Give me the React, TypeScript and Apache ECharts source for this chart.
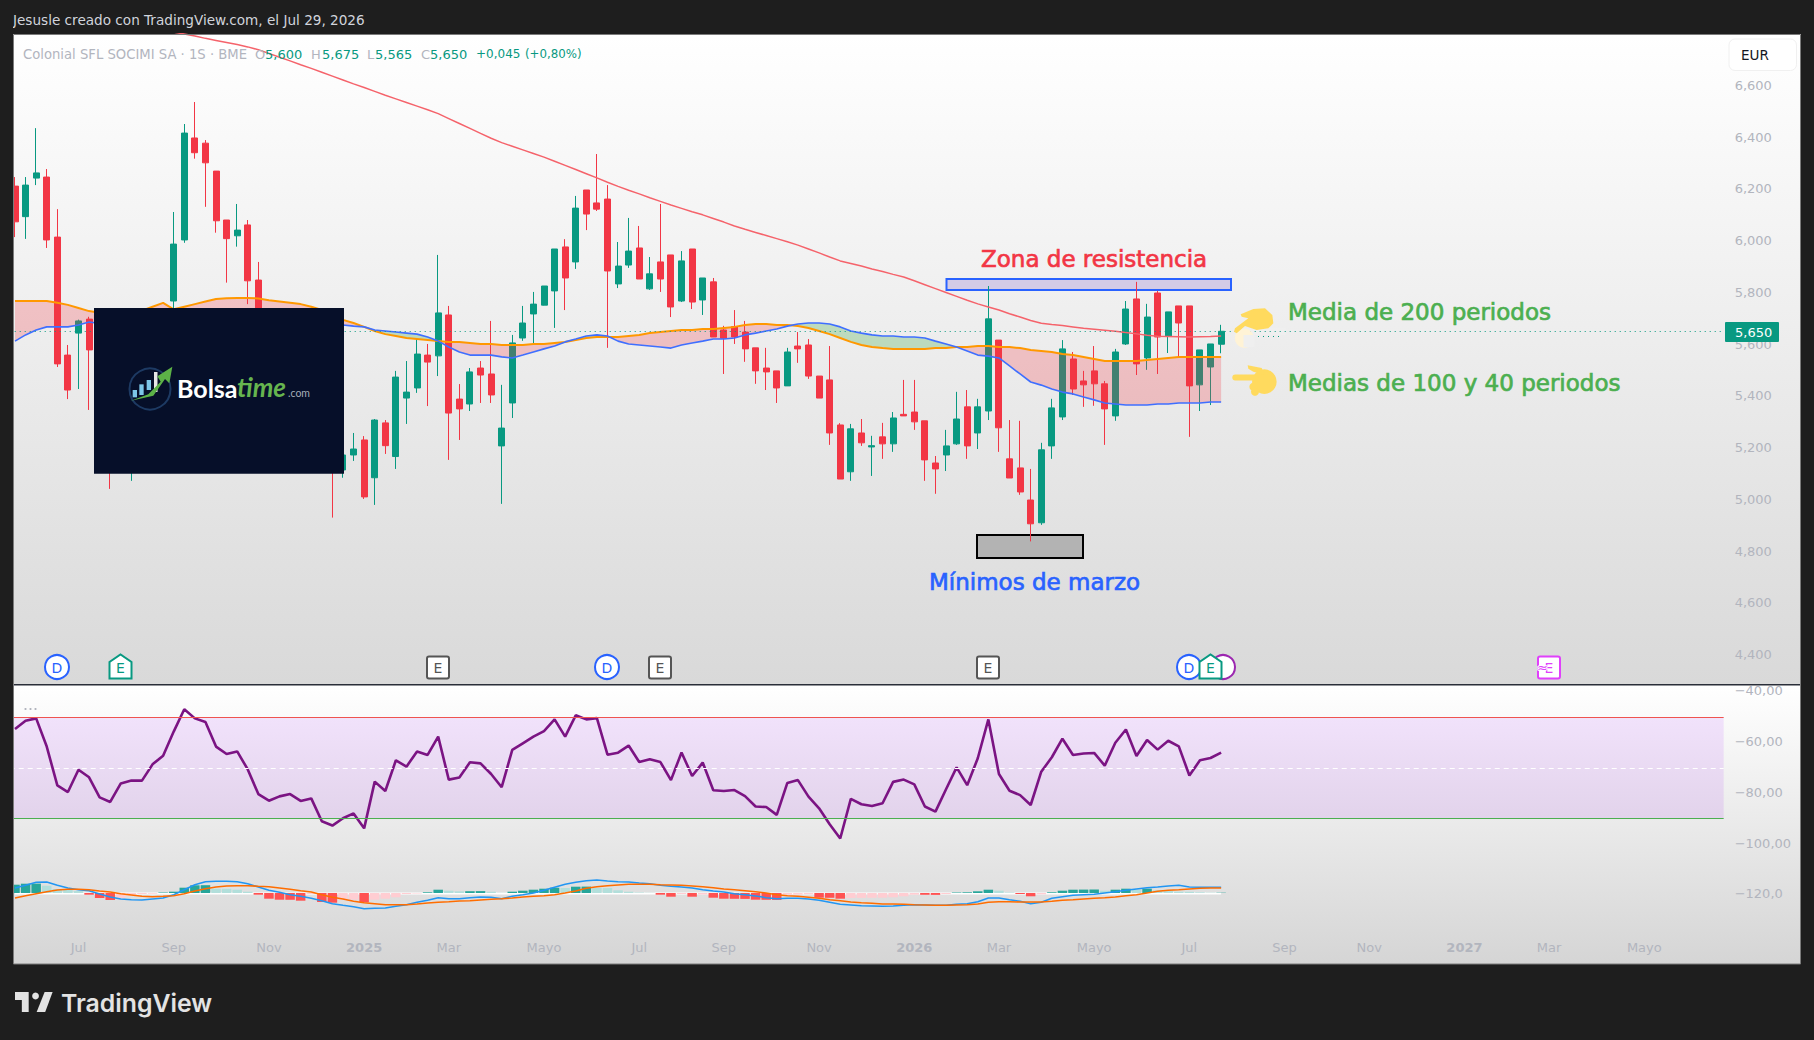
import React, { useEffect, useRef } from "react";
import * as echarts from "echarts";

const FONT = "DejaVu Sans";
const opens = [6211,6093,6242,6246,6014,5558,5643,5697,5590,5430,5200,5200,5380,5450,5530,5767,6003,6397,6377,6269,6080,6019,6061,5848,5680,5600,5470,5380,5440,5330,5220,5114,5172,5230,5084,5296,5166,5392,5431,5558,5555,5713,5388,5369,5508,5485,5207,5373,5624,5717,5751,5806,5976,5918,6196,6146,6161,5833,5906,5972,5814,5918,5945,5767,5968,5771,5841,5655,5668,5647,5586,5508,5497,5439,5593,5597,5477,5462,5288,5107,5257,5203,5242,5215,5329,5338,5304,5141,5172,5215,5358,5257,5342,5616,5157,5122,4998,4910,5207,5319,5543,5458,5497,5447,5323,5601,5775,5547,5798,5632,5748,5748,5443,5512,5600];
const closes = [6073,6215,6262,6003,5524,5423,5690,5578,5430,5200,5310,5380,5450,5530,5600,5987,6416,6340,6301,6077,6008,6041,5845,5680,5600,5470,5380,5440,5330,5220,5110,5172,5195,5010,5307,5208,5473,5415,5562,5531,5721,5334,5350,5493,5481,5404,5276,5605,5682,5755,5825,5968,5856,6126,6103,6122,5883,5902,5960,5852,5872,5852,5744,5922,5763,5856,5628,5623,5628,5582,5497,5493,5431,5570,5582,5477,5392,5257,5079,5273,5219,5208,5215,5315,5323,5300,5153,5118,5207,5311,5207,5358,5698,5277,5083,5029,4906,5192,5354,5582,5427,5443,5447,5350,5570,5736,5524,5705,5628,5725,5682,5439,5578,5601,5650];
const highs = [6246,6246,6435,6277,6122,5597,5695,5706,5620,5480,5360,5450,5500,5580,5690,6111,6451,6536,6389,6269,6080,6142,6080,5918,5720,5630,5500,5470,5470,5360,5260,5230,5257,5245,5311,5307,5497,5535,5620,5601,5945,5748,5446,5508,5535,5690,5443,5636,5748,5802,5825,5968,6006,6173,6196,6335,6215,5995,6088,6057,5937,6142,5945,5960,5968,5856,5856,5671,5732,5690,5586,5586,5497,5586,5647,5620,5477,5593,5295,5292,5311,5246,5296,5338,5462,5462,5304,5168,5269,5416,5423,5389,5825,5616,5307,5304,5118,5219,5389,5616,5570,5497,5593,5458,5582,5767,5841,5756,5806,5725,5748,5748,5578,5601,5675];
const lows = [6014,6007,6215,5972,5512,5388,5427,5346,5400,5041,5150,5072,5340,5420,5500,5730,5992,6317,6131,6031,5838,5977,5755,5640,5560,5430,5340,5330,5290,5180,4930,5084,5149,5002,4979,5176,5118,5292,5412,5361,5477,5153,5230,5342,5373,5373,4983,5315,5613,5604,5750,5663,5732,5891,6041,6115,5586,5817,5895,5852,5810,5802,5705,5763,5736,5713,5628,5485,5601,5532,5447,5423,5373,5439,5528,5466,5392,5211,5079,5072,5207,5091,5157,5184,5323,5269,5072,5022,5110,5211,5157,5195,5307,5184,5083,5018,4838,4902,5157,5307,5404,5358,5362,5211,5304,5597,5481,5501,5485,5566,5551,5242,5342,5365,5565];
const ma200 = [null,null,null,null,null,null,null,null,null,null,null,null,null,null,null,6806,6799,6791,6782,6774,6766,6758,6749,6738,6724,6709,6695,6680,6666,6651,6636,6621,6606,6592,6577,6562,6548,6534,6520,6506,6491,6472,6453,6434,6415,6396,6379,6365,6351,6337,6323,6307,6291,6275,6259,6243,6226,6210,6195,6181,6166,6152,6138,6125,6112,6100,6086,6072,6057,6044,6032,6020,6008,5996,5983,5968,5953,5937,5922,5912,5902,5891,5881,5870,5860,5845,5830,5815,5800,5785,5770,5756,5744,5732,5718,5705,5692,5681,5676,5672,5667,5662,5658,5654,5650,5645,5640,5635,5631,5630,5629,5628,5629,5630,5632];
const ma100 = [5767,5767,5767,5767,5760,5752,5740,5728,5722,5718,5716,5720,5730,5745,5760,5735,5745,5755,5765,5775,5778,5779,5779,5777,5770,5765,5760,5755,5745,5732,5713,5694,5682,5667,5651,5639,5632,5624,5620,5616,5612,5609,5609,5605,5601,5601,5597,5597,5597,5601,5601,5605,5609,5616,5624,5628,5628,5628,5632,5636,5643,5647,5651,5655,5655,5659,5659,5663,5667,5674,5678,5678,5674,5674,5670,5663,5651,5639,5624,5609,5597,5589,5585,5582,5582,5582,5582,5585,5585,5589,5589,5593,5593,5589,5589,5585,5578,5574,5570,5562,5558,5551,5543,5535,5535,5535,5535,5539,5543,5547,5551,5551,5551,5551,5551];
const ma40 = [5612,5636,5655,5667,5667,5667,5674,5686,5680,5670,5650,5640,5640,5650,5660,5665,5670,5680,5690,5695,5700,5700,5695,5690,5685,5680,5670,5665,5660,5655,5655,5674,5670,5667,5655,5651,5647,5643,5639,5628,5612,5589,5570,5558,5558,5558,5551,5547,5558,5570,5582,5593,5609,5620,5632,5636,5632,5612,5601,5597,5593,5589,5585,5597,5605,5612,5620,5620,5624,5636,5643,5651,5659,5670,5678,5682,5682,5678,5667,5651,5643,5636,5632,5632,5628,5628,5624,5612,5601,5589,5574,5558,5554,5547,5516,5485,5454,5442,5427,5415,5408,5396,5385,5373,5369,5365,5365,5365,5369,5369,5373,5373,5373,5377,5377];
const oscillator = [-55.1,-51.8,-50.9,-62,-77.3,-79.9,-71.1,-74.1,-82,-83.8,-76.5,-75.4,-75.4,-69,-65.6,-56.1,-47.3,-50.9,-52.3,-62,-64.9,-63.9,-71,-80.7,-83.3,-81.6,-80.7,-83.4,-82.4,-91.4,-93.1,-90.2,-88.3,-94.2,-75.8,-79.5,-67.4,-69.9,-63.9,-65.3,-58.1,-75,-74.2,-68.2,-68.6,-72.8,-78,-63.3,-60.7,-58.1,-55.9,-51.3,-58.1,-49.7,-51.3,-50.8,-65.2,-64.4,-61.6,-68.1,-67,-68.1,-75.2,-64.3,-73.6,-68.3,-79.2,-79.5,-79.1,-81.5,-85.6,-85.8,-88.9,-76.3,-75.2,-81.7,-86.3,-92.6,-98.2,-82.6,-84.7,-85.4,-84.3,-75.9,-75,-76.9,-85.6,-87.6,-78.8,-70.2,-77.2,-66.6,-51.3,-72.8,-79.4,-81.1,-85,-71.9,-66.2,-58.9,-65.3,-64.7,-64.5,-69.5,-60.5,-55.3,-65.7,-59.4,-63.2,-59.7,-61.9,-73.4,-67.4,-66.5,-64.4];
const macdLine = [5,7.7,10.7,11,7.7,5,3.3,2.3,-1,-4,-6,-6.7,-7,-6,-5,-1.7,3.3,8.3,11.3,11.7,11.7,11.3,9.3,6,2.7,0.7,-1.7,-3.3,-5.3,-7.7,-10.7,-12.3,-13.7,-15.7,-15.3,-15,-13.3,-11.7,-9.3,-7.3,-4.7,-5.7,-5.7,-4.7,-4,-4.3,-5.7,-3.3,-1.7,0,2.7,5.7,8.7,10.7,12.3,13,12,11.3,11,10,9.3,7.7,6.7,6,5,3.3,2,1,-0.7,-1.7,-3,-4.7,-5.7,-5.3,-5.3,-6,-7.3,-9.3,-11.3,-12,-12.7,-13,-13.3,-13,-12.3,-11.7,-12,-12.3,-12.3,-11.3,-10.7,-8.7,-5,-5,-6.7,-8.3,-10.7,-9.3,-5.3,-3.7,-2.3,-1.7,-1.3,0,1.3,2.7,4,5.3,6,7,7.7,6,5.7,5.7,5.7];
const macdSignal = [-5,-2.7,-0.7,1.3,3,3.7,3.7,3.3,2,1,-0.7,-2,-3.3,-3.7,-3.3,-2.7,-0.7,2,4.3,6,7,7.3,7.3,6.7,6.3,5,3.7,2.3,1,-1.7,-4.3,-6,-8.3,-9.7,-10.7,-11.7,-11.7,-11.7,-11,-10,-9.3,-8.7,-8,-7.7,-7,-6.3,-5.7,-5,-4,-3.3,-2.7,-1.7,0,2,4.7,6.3,7.3,8,8.7,8.7,8.7,8.3,8,7.7,7,6.3,5.3,4,3.3,2.3,1.3,0,-1.7,-2.7,-3.3,-4.3,-5.3,-6.7,-7.7,-9,-9.7,-10.3,-11,-11,-11.3,-11.7,-12,-12.3,-12.3,-12,-11.7,-11,-9.3,-8.7,-8.7,-9,-9,-9,-8.3,-7.3,-6.7,-6,-5.3,-4.7,-4,-2.7,-1.7,0,1.7,2.7,3.3,4,4.7,5,5];
const macdHist = [8.3,9.3,9.4,7.3,4,3,2,-1.7,-5,-7,-5,-3,-1,-0.7,0.5,1.3,5.3,7.7,7.8,4.3,4.2,3.3,1.3,-1.7,-5.7,-6.7,-6.8,-7.7,-1,-9,-9.7,-6.7,-6.6,-9.3,-6.7,-5.7,-4.3,-1,-0.5,0.7,3.3,2.3,1.7,1.8,1.9,1.3,0.2,1.3,2.3,3.3,4.3,5.3,5,6.3,6.4,5,4.9,2.7,1.3,0.5,0.2,-1.7,-3.7,-1,-3.7,-1.5,-4.7,-5.7,-5.8,-5.9,-6.7,-6.8,-6.9,-1.7,-1.6,-1.3,-4.7,-4.8,-5.7,-5,-4.9,-4.8,-4.7,-4.3,-3.3,-1.7,-1.8,-1.9,-1,0.5,0.7,1.7,3.3,2.3,0.5,-1,-3.3,-1.3,0.7,2.3,3.3,3.4,3.5,2.3,3.3,4.3,3.3,4.3,2.7,2,1.3,1.2,0.7,0.3,0.3];
const priceTicks = { min: 4200, max: 6800, step: 200 };
const oscTicks = { min: -140, max: -20, step: 20 };
const tickIndex = [6,15,24,33,41,50,59,67,76,85,93,102,111,120,128,137,145,154];
const tickText = ["Jul","Sep","Nov","2025","Mar","Mayo","Jul","Sep","Nov","2026","Mar","Mayo","Jul","Sep","Nov","2027","Mar","Mayo"];
const slotCount = 162;
const categories = Array.from({ length: slotCount }, (_, i) => "w" + i);
const lastPrice = 5650;
const bandUpper = -50.6;
const bandMiddle = -70.4;
const bandLower = -90.2;
const legendParts: [string, number, string, number][] = [
  ["Colonial SFL SOCIMI SA · 1S · BME", 23, "#b2b5be", 13.2],
  ["O", 255, "#b2b5be", 13], ["5,600", 265, "#089981", 13],
  ["H", 311, "#b2b5be", 13], ["5,675", 322, "#089981", 13],
  ["L", 367, "#b2b5be", 13], ["5,565", 375, "#089981", 13],
  ["C", 421, "#b2b5be", 13], ["5,650", 430, "#089981", 13],
  ["+0,045", 476, "#089981", 12], ["(+0,80%)", 525, "#089981", 11.8],
];

const GRID_LEFT = 9.71;
const GRID_WIDTH = 1713.96;
const GREEN = "#089981";
const RED = "#f23645";

function label(text: string, x: number, y: number, extra: any = {}) {
  return { type: "text", z: 20, silent: true, style: { text, x, y, align: "left", verticalAlign: "middle", fontFamily: FONT, fontSize: 12.5, fill: "#b2b5be", ...extra } };
}
const rect = (x: number, y: number, width: number, height: number, style: any, z = 20, r = 0) => ({ type: "rect", z, silent: true, shape: { x, y, width, height, r }, style });
const poly = (points: number[][], style: any, z = 20) => ({ type: "polygon", z, silent: true, shape: { points }, style });
const circle = (cx: number, cy: number, r: number, style: any, z = 20) => ({ type: "circle", z, silent: true, shape: { cx, cy, r }, style });

function vGrad(a: string, b: string) {
  return new echarts.graphic.LinearGradient(0, 0, 0, 1, [{ offset: 0, color: a }, { offset: 1, color: b }]);
}

function badgeD(cx: number) {
  return [
    circle(cx, 667, 12, { fill: "#fff", stroke: "#2962ff", lineWidth: 2 }, 21),
    label("D", cx, 667.5, { align: "center", fill: "#2962ff", fontSize: 14 }),
  ].map((e: any) => ({ ...e, z: 21 }));
}
function badgeBox(cx: number, color: string) {
  return [
    rect(cx - 11, 656.5, 22, 22, { fill: "#fff", stroke: color, lineWidth: 2 }, 21, 2),
    { ...label("E", cx, 667.5, { align: "center", fill: color, fontSize: 14 }), z: 22 },
  ];
}
function badgeHouse(cx: number) {
  return [
    poly([[cx - 11, 678.5], [cx - 11, 662], [cx, 654.5], [cx + 11, 662], [cx + 11, 678.5]], { fill: "#fff", stroke: "#089981", lineWidth: 2 }, 23),
    { ...label("E", cx, 668, { align: "center", fill: "#089981", fontSize: 14 }), z: 24 },
  ];
}

function hands() {
  const h = "#ffda5e";
  const m = (pts: number[][]) => pts.map(([x, y]) => [1225 + x / 3, 300 + y / 3]);
  return [
    circle(1225 + 58 / 3, 300 + 115 / 3, 9.5, { fill: "#fff3d6" }, 6),
    rect(1243.5, 335, 11, 12, { fill: "#efefef" }, 6),
    poly(m([[47, 43], [85, 27], [120, 25], [142, 45], [145, 70], [130, 85], [95, 90], [60, 78], [35, 100], [27, 95], [30, 85], [70, 55], [50, 50]]), { fill: h }, 7),
    circle(1225 + 118 / 3, 300 + 245 / 3, 12.3, { fill: h }, 7),
    rect(1232.3, 374.5, 26, 6, { fill: h }, 7, 3),
    poly(m([[68, 196], [110, 204], [120, 225], [85, 215], [70, 206]]), { fill: h }, 7),
    circle(1225 + 85 / 3, 300 + 260 / 3, 4, { fill: h }, 7),
    circle(1225 + 90 / 3, 300 + 275 / 3, 4, { fill: h }, 7),
  ];
}

function logo() {
  const m = (pts: number[][]) => pts.map(([x, y]) => [120 + x / 3, 355 + y / 3]);
  const bars = [[38, 105, 13, 22], [58, 88, 13, 32], [80, 75, 13, 30]];
  return [
    rect(94, 308, 250, 165.7, { fill: "#060f29" }, 30),
    circle(150, 389, 20.5, { fill: "none", stroke: "#1d3a63", lineWidth: 2 }, 31),
    ...bars.map(([x, y, w, hh]) => rect(120 + x / 3, 355 + y / 3, w / 3, hh / 3, { fill: "#7cc6e8" }, 31)),
    rect(154, 372, 3.5, 20, { fill: "#e8e8e8" }, 31),
    poly(m([[33, 137], [85, 118], [122, 80], [112, 64], [157, 35], [148, 85], [135, 72], [100, 122]]), { fill: "#5cb247" }, 32),
    { ...label("Bolsa", 177, 388, { fill: "#ffffff", fontFamily: "Lato", fontWeight: 700, fontSize: 25 }), z: 33 },
    { ...label("time", 237, 387, { fill: "#66b54f", fontFamily: "Lato", fontWeight: 700, fontStyle: "italic", fontSize: 26 }), z: 33 },
    { ...label(".com", 288, 393, { fill: "#a5adb8", fontFamily: "Lato", fontSize: 10.5 }), z: 33 },
  ];
}

function tvLogo() {
  const m = (pts: number[][]) => pts.map(([x, y]) => [15 + (x - 2) * 1.14, 992 + (y - 6) * 1.333]);
  const c = "#e3e3e3";
  return [
    poly(m([[2, 6], [14, 6], [14, 21], [8, 21], [8, 12], [2, 12]]), { fill: c }),
    circle(15 + 18 * 1.14, 992 + 3 * 1.333, 3.4, { fill: c }),
    poly(m([[28, 6], [35, 6], [28.5, 21], [21, 21]]), { fill: c }),
    label("TradingView", 61, 1002.5, { fill: c, fontFamily: "Inter", fontWeight: 600, fontSize: 24.8 }),
  ];
}

function buildOption() {
  const candleData = opens.map((o, i) => [o, closes[i], lows[i], highs[i]]);
  const histData = macdHist.map((v, i) => {
    const prev = i ? macdHist[i - 1] : 0;
    const color = v >= 0 ? (v >= prev ? "#26a69a" : "#b2dfdb") : (v < prev ? "#ff5252" : "#ffcdd2");
    return { value: v, itemStyle: { color } };
  });
  const fill = {
    type: "custom", xAxisIndex: 0, yAxisIndex: 0, z: 3, silent: true, clip: true, data: [[0, ma100[0]]],
    encode: { x: 0, y: 1 },
    renderItem: (_p: any, api: any) => {
      const regions: any[] = [];
      let top: number[][] = [], bot: number[][] = [];
      let sign = 0;
      const flush = () => {
        if (top.length > 1) {
          regions.push({
            type: "polygon", shape: { points: top.concat(bot.slice().reverse()) },
            style: { fill: sign > 0 ? "rgba(242,54,69,0.25)" : "rgba(76,175,80,0.3)" },
          });
        }
        top = []; bot = [];
      };
      for (let i = 0; i < ma100.length; i++) {
        const a = api.coord([i, ma100[i]]), b = api.coord([i, ma40[i]]);
        const d = ma100[i] - ma40[i];
        const s = d >= 0 ? 1 : -1;
        if (i > 0 && s !== sign) {
          const pa = api.coord([i - 1, ma100[i - 1]]);
          const pd = ma100[i - 1] - ma40[i - 1];
          const t = pd / (pd - d);
          const mid = [pa[0] + (a[0] - pa[0]) * t, pa[1] + (a[1] - pa[1]) * t];
          top.push(mid); bot.push(mid);
          flush();
          top.push(mid); bot.push(mid);
        }
        sign = s;
        top.push(a); bot.push(b);
      }
      flush();
      return { type: "group", children: regions };
    },
  };
  const xBase = { type: "category", data: categories, boundaryGap: true, axisLine: { show: false }, axisTick: { show: false }, splitLine: { show: false } };
  const yBase = { type: "value", position: "right", axisLine: { show: false }, axisTick: { show: false }, splitLine: { show: false } };
  const axisText = { color: "#b2b5be", fontFamily: FONT, fontSize: 13, align: "left", margin: 11 };
  const lineSeries = (data: any[], color: string, width: number, z: number, xi = 0) => ({
    type: "line", data, xAxisIndex: xi, yAxisIndex: xi, showSymbol: false, symbol: "none", connectNulls: false, z, silent: true,
    lineStyle: { color, width },
  });
  const heavy = (color: string) => ({ fill: color, stroke: color, lineWidth: 0.7, fontSize: 23 });

  const graphicElements: any[] = [
    rect(13, 34, 1788, 650.5, { fill: vGrad("#ffffff", "#d9d9d9") }, -5),
    rect(13, 685, 1788, 279, { fill: vGrad("#ffffff", "#d5d5d5") }, -5),
    rect(946.5, 279, 284.5, 11, { fill: "#d3cbe6", stroke: "#2962ff", lineWidth: 2 }, 1),
    rect(977, 535, 106, 23, { fill: "#b3b3b3", stroke: "#000000", lineWidth: 2 }, 1),
    rect(1236, 328, 50, 7, { fill: "#efefef" }, 5),
    { type: "line", z: 6, silent: true, shape: { x1: 1243, y1: 336.5, x2: 1281, y2: 336.5 }, style: { stroke: GREEN, lineWidth: 1, lineDash: [1, 4] } },
    ...hands(),
    label("Zona de resistencia", 981, 259, heavy(RED)),
    label("Media de 200 periodos", 1288, 311.5, heavy("#4caf50")),
    label("Medias de 100 y 40 periodos", 1288, 382.5, heavy("#4caf50")),
    label("Mínimos de marzo", 929, 582, heavy("#2962ff")),
    ...logo(),
    ...badgeD(57), ...badgeHouse(120.5), ...badgeBox(438, "#555555"), ...badgeD(607), ...badgeBox(660, "#555555"), ...badgeBox(988, "#555555"),
    circle(1223, 667, 12, { fill: "#fff", stroke: "#9c27b0", lineWidth: 2 }, 20),
    ...badgeD(1189), ...badgeHouse(1210.5), ...badgeBox(1549, "#e040fb"),
    { ...label("≈", 1537, 667.5, { fill: "#e040fb", fontSize: 13, stroke: "#ffffff", lineWidth: 2 }), z: 23 },
    label("Jesusle creado con TradingView.com, el Jul 29, 2026", 13, 20, { fill: "#d1d4dc", fontSize: 13.6 }),
    ...legendParts.map(([t, x, c, s]) => label(t, x, 54, { fill: c, fontSize: s })),
    rect(1729, 39, 67.5, 31.5, { fill: "#ffffff", stroke: "#f0f0f0", lineWidth: 1 }, 20, 6),
    label("EUR", 1741, 55, { fill: "#131722", fontSize: 13.5 }),
    rect(1725, 322, 54, 20, { fill: GREEN }, 20, 1),
    label("5,650", 1735, 332, { fill: "#ffffff", fontSize: 13 }),
    circle(25.5, 709, 1.1, { fill: "#b2b5be" }), circle(30.5, 709, 1.1, { fill: "#b2b5be" }), circle(35.5, 709, 1.1, { fill: "#b2b5be" }),
    rect(0, 0, 13, 1040, { fill: "#1e1e1e" }, 40),
    rect(13, 684, 1788, 1.5, { fill: "#2a2e39" }, 12),
    rect(13.5, 34.5, 1787, 929.5, { fill: "none", stroke: "#7b7b7b", lineWidth: 1 }, 41),
    ...tvLogo(),
  ];

  return {
    animation: false,
    backgroundColor: "transparent",
    grid: [
      { left: GRID_LEFT, width: GRID_WIDTH, top: 33.7, height: 672.8 },
      { left: GRID_LEFT, width: GRID_WIDTH, top: 639.9, height: 304.8 },
      { left: GRID_LEFT, width: GRID_WIDTH, top: 853, height: 80 },
    ],
    xAxis: [
      { ...xBase, gridIndex: 0, show: false },
      { ...xBase, gridIndex: 1, show: false },
      {
        ...xBase, gridIndex: 2,
        axisLabel: {
          interval: 0, margin: 8, hideOverlap: false, showMinLabel: true, showMaxLabel: true,
          color: "#b2b5be", fontFamily: FONT, fontSize: 13,
          formatter: (_v: string, i: number) => {
            const at = tickIndex.indexOf(i);
            if (at < 0) return "";
            const t = tickText[at];
            return /^\d+$/.test(t) ? `{b|${t}}` : t;
          },
          rich: { b: { fontWeight: "bold", color: "#b2b5be", fontFamily: FONT, fontSize: 13 } },
        },
      },
    ],
    yAxis: [
      {
        ...yBase, gridIndex: 0, min: priceTicks.min, max: priceTicks.max, interval: priceTicks.step,
        axisLabel: { ...axisText, showMinLabel: false, showMaxLabel: false, formatter: (v: number) => (v / 1000).toFixed(3).replace(".", ",") },
      },
      {
        ...yBase, gridIndex: 1, min: oscTicks.min, max: oscTicks.max, interval: oscTicks.step,
        axisLabel: {
          ...axisText, showMinLabel: false, showMaxLabel: false,
          formatter: (v: number) => "\u2212" + Math.abs(v).toFixed(Math.abs(v) === 120 ? 1 : 2).replace(".", ","),
        },
      },
      { ...yBase, gridIndex: 2, min: -40, max: 40, show: false },
    ],
    graphic: { elements: graphicElements },
    series: [
      {
        type: "candlestick", data: candleData, xAxisIndex: 0, yAxisIndex: 0, barWidth: 6.5, z: 2, silent: true,
        itemStyle: { color: GREEN, color0: RED, borderColor: GREEN, borderColor0: RED, borderWidth: 1 },
        markLine: {
          silent: true, symbol: "none", label: { show: false },
          lineStyle: { color: GREEN, width: 1, type: [1, 4] },
          data: [{ yAxis: lastPrice }],
        },
      },
      fill,
      lineSeries(ma200, "#f5636b", 1.5, 4),
      lineSeries(ma100, "#ff9800", 2, 4),
      lineSeries(ma40, "#3f6fff", 1.6, 4),
      {
        ...lineSeries(oscillator, "#7b1483", 2.6, 4, 1),
        markArea: {
          silent: true, z: 1,
          itemStyle: { color: vGrad("#f1e2fb", "#e2d3eb") },
          data: [[{ yAxis: bandUpper }, { yAxis: bandLower }]],
        },
        markLine: {
          silent: true, symbol: "none", label: { show: false },
          data: [
            { yAxis: bandUpper, lineStyle: { color: "#ef5350", width: 1, type: "solid" } },
            { yAxis: bandMiddle, lineStyle: { color: "#ffffff", width: 1, type: [5, 4] } },
            { yAxis: bandLower, lineStyle: { color: "#4caf50", width: 1, type: "solid" } },
          ],
        },
      },
      lineSeries(macdHist.map(() => -0.5), "#ffffff", 1.8, 1, 2),
      { type: "bar", data: histData, xAxisIndex: 2, yAxisIndex: 2, barWidth: 9.5, z: 2, silent: true },
      lineSeries(macdLine, "#2196f3", 1.5, 4, 2),
      lineSeries(macdSignal, "#ff6d00", 1.6, 5, 2),
    ],
  };
}

export default function App() {
  const ref = useRef<HTMLDivElement>(null);
  useEffect(() => {
    document.body.style.margin = "0";
    document.body.style.background = "#1e1e1e";
    const chart = echarts.init(ref.current!, undefined, { renderer: "svg" });
    chart.setOption(buildOption() as any);
    return () => chart.dispose();
  }, []);
  return <div ref={ref} style={{ width: 1814, height: 1040, background: "#1e1e1e" }} />;
}
